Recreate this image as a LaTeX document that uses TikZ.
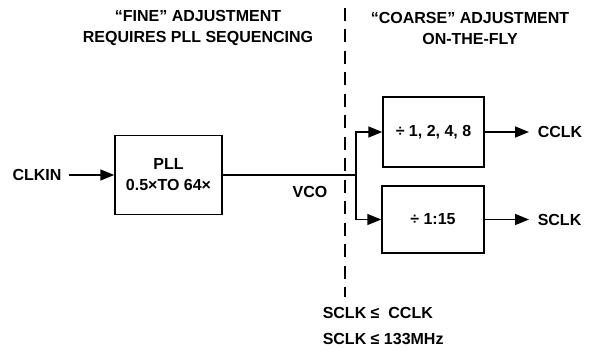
\documentclass[tikz,border=0pt]{standalone}
\usepackage{fontspec}
\setmainfont{Liberation Sans}
\usetikzlibrary{arrows.meta, positioning, calc}

\begin{document}
\begin{tikzpicture}[x=10pt, y=10pt, line width=1.5pt,
  every node/.style={font=\fontsize{16}{21}\selectfont\bfseries, inner sep=0pt},
  blk/.style={draw, line width=1.5pt, align=center},
  sig/.style={-{Triangle[length=14pt, width=11pt]}},
  lbl/.style={align=center}]
  \useasboundingbox (0,0) rectangle (59.6,35);
  % Headers
  \node[lbl] (fine) at (19.8, 32.2) {“FINE” ADJUSTMENT\\REQUIRES PLL SEQUENCING};
  \node[lbl] (coarse) at (47.0, 32.2) {“COARSE” ADJUSTMENT\\ON-THE-FLY};
  % Border between the two sides
  \coordinate (bordtop) at (34.5, 34.2);
  \coordinate (bordbot) at (34.5, 5.3);
  \draw[dash pattern=on 13pt off 8.5pt] (bordtop) -- (bordbot);
  % PLL
  \node[blk, minimum width=107pt, minimum height=79pt] (pll) at (16.85, 17.5) {PLL\\0.5×TO 64×};
  \node (clkin) at (3.7, 17.5) {CLKIN};
  \draw[sig] (clkin.east) ++(0.7,0) -- (pll.west);
  % VCO
  \coordinate (split) at (35.6, 17.5);
  \draw (pll.east) -- (split);
  \node (vco) at (31.0, 15.8) {VCO};
  % Dividers
  \node[blk, minimum width=101pt, minimum height=70pt] (cdiv) at (43.35, 21.8) {÷ 1, 2, 4, 8};
  \node[blk, minimum width=102pt, minimum height=67pt] (sdiv) at (43.3, 13.05) {÷ 1:15};
  \draw[sig] (split) |- (cdiv.west);
  \draw[sig] (split) |- (sdiv.west);
  % Outputs
  \node[anchor=west] (cclk) at (53.7, 21.8) {CCLK};
  \node[anchor=west] (sclk) at (53.7, 13.05) {SCLK};
  \draw[sig] (cdiv.east) -- ([xshift=-8pt]cclk.west);
  \draw[sig] (sdiv.east) -- ([xshift=-8pt]sclk.west);
  % Limits
  \node[anchor=west] (lim1) at (32.2, 3.7) {SCLK ≤\ \ CCLK};
  \node[anchor=west] (lim2) at (32.2, 1.1) {SCLK ≤ 133MHz};
\end{tikzpicture}
\end{document}
